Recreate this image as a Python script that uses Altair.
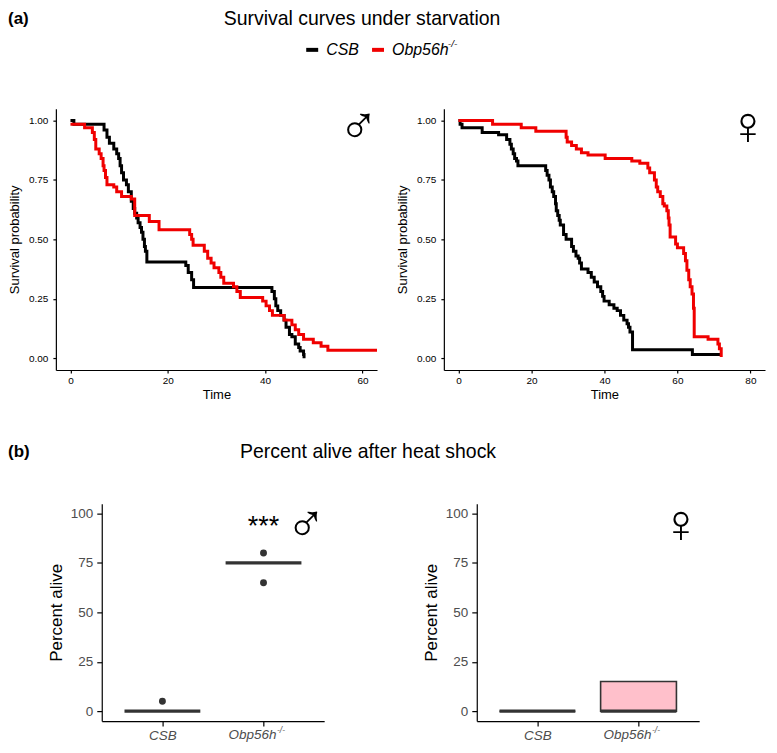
import altair as alt
import pandas as pd

FONT = "Liberation Sans"

# ---------------- data ----------------
genotypes = ["CSB", "Obp56h"]
genotype_sup = "-/-"
line_colors = ["#000000", "#F00000"]

# Survival under starvation, male
male_csb_time = [0, 0.7, 6.9, 7.5, 8.0, 8.9, 9.5, 9.9, 10.2, 10.5, 10.9, 11.5, 11.9, 12.5, 12.9,
                 13.2, 13.6, 13.9, 14.3, 14.6, 14.9, 15.2, 15.4, 15.7, 23.7, 24.2, 24.9, 25.3,
                 41.4, 41.9, 42.2, 42.6, 43.2, 43.9, 44.3, 45.0, 45.5, 46.2, 46.9, 47.2, 47.9, 48.0]
male_csb_surv = [1.0, 0.985, 0.96, 0.93, 0.905, 0.88, 0.86, 0.84, 0.81, 0.78, 0.75, 0.73, 0.70, 0.66,
                 0.63, 0.61, 0.59, 0.57, 0.55, 0.53, 0.50, 0.47, 0.45, 0.405, 0.39, 0.36, 0.33, 0.297,
                 0.28, 0.25, 0.22, 0.20, 0.18, 0.16, 0.13, 0.10, 0.09, 0.06, 0.045, 0.03, 0.015, 0.0]
male_obp_time = [0, 2.9, 4.5, 4.9, 5.2, 5.9, 6.3, 6.7, 6.9, 7.2, 7.5, 8.9, 9.5, 10.5, 12.5, 13.2,
                 16.2, 18.2, 24.5, 24.9, 25.2, 27.5, 28.2, 28.9, 29.5, 30.5, 30.9, 31.5, 33.5, 34.2,
                 34.9, 39.5, 40.2, 40.9, 41.5, 43.9, 45.5, 46.2, 46.9, 47.9, 49.9, 51.5, 52.9, 63.0]
male_obp_surv = [0.985, 0.97, 0.95, 0.92, 0.88, 0.86, 0.84, 0.81, 0.79, 0.76, 0.73, 0.72, 0.70, 0.68,
                 0.67, 0.60, 0.575, 0.54, 0.52, 0.50, 0.475, 0.45, 0.42, 0.40, 0.38, 0.36, 0.34, 0.315,
                 0.30, 0.28, 0.255, 0.24, 0.22, 0.20, 0.18, 0.16, 0.14, 0.12, 0.10, 0.08, 0.065, 0.05,
                 0.033, 0.033]

# Survival under starvation, female
female_csb_time = [0, 0.45, 0.98, 6.5, 11.0, 13.2, 14.1, 14.5, 15.0, 15.4, 15.9, 16.3, 23.9, 24.3,
                   24.8, 25.2, 25.7, 26.1, 26.6, 26.8, 27.2, 27.6, 27.9, 28.8, 29.5, 31.0, 31.5,
                   32.2, 32.8, 33.2, 33.7, 35.5, 36.4, 37.2, 38.1, 39.0, 39.5, 39.9, 41.3, 42.6,
                   43.5, 44.4, 45.3, 46.2, 46.6, 47.0, 47.7, 64.1, 72.0]
female_csb_surv = [1.0, 0.985, 0.97, 0.95, 0.94, 0.92, 0.90, 0.88, 0.86, 0.84, 0.83, 0.81, 0.79, 0.77,
                   0.75, 0.72, 0.70, 0.68, 0.65, 0.62, 0.60, 0.58, 0.56, 0.52, 0.50, 0.47, 0.45, 0.43,
                   0.42, 0.40, 0.375, 0.36, 0.34, 0.32, 0.30, 0.28, 0.26, 0.24, 0.225, 0.21, 0.20,
                   0.18, 0.16, 0.145, 0.13, 0.11, 0.035, 0.015, 0.015]
female_obp_time = [0, 9.35, 17.2, 21.2, 29.5, 29.8, 31.0, 32.3, 33.7, 35.5, 40.2, 47.5, 49.7, 51.9,
                   52.4, 53.7, 54.2, 54.6, 55.3, 56.0, 56.4, 57.1, 57.5, 57.7, 58.0, 59.5, 60.0,
                   61.7, 62.2, 62.6, 63.1, 63.5, 64.0, 64.4, 64.6, 68.4, 71.1, 71.5, 72.0]
female_obp_surv = [1.0, 0.985, 0.97, 0.955, 0.93, 0.91, 0.895, 0.88, 0.865, 0.855, 0.84, 0.83, 0.82,
                   0.80, 0.78, 0.75, 0.72, 0.70, 0.68, 0.65, 0.64, 0.62, 0.59, 0.56, 0.51, 0.48,
                   0.465, 0.44, 0.41, 0.37, 0.33, 0.30, 0.27, 0.21, 0.09, 0.08, 0.06, 0.04, 0.005]

# Percent alive after heat shock
male_heat_center = [0, 75]
male_heat_lower = [0, 75]
male_heat_upper = [0, 75]
male_points_genotype = ["CSB", "Obp56h", "Obp56h"]
male_points_value = [5, 80, 65]
female_heat_center = [0, 0]
female_heat_lower = [0, 0]
female_heat_upper = [0, 15]

panel_tags = ["(a)", "(b)"]
section_titles = ["Survival curves under starvation", "Percent alive after heat shock"]
sex_symbols = ["\u2642", "\u2640"]
signif_label = "***"

# ---------------- tables ----------------
def surv_table(pairs):
    rows = []
    for g, ts, ss in pairs:
        for t, s in zip(ts, ss):
            rows.append({"genotype": g, "time": t, "surv": s})
    return pd.DataFrame(rows)

surv_male = surv_table([(genotypes[0], male_csb_time, male_csb_surv),
                        (genotypes[1], male_obp_time, male_obp_surv)])
surv_female = surv_table([(genotypes[0], female_csb_time, female_csb_surv),
                          (genotypes[1], female_obp_time, female_obp_surv)])

HALF = 0.375
def heat_table(center, lower, upper):
    pos = [i + 1 for i in range(len(genotypes))]
    return pd.DataFrame({"genotype": genotypes, "pos": pos,
                         "lo": [p - HALF for p in pos], "hi": [p + HALF for p in pos],
                         "center": center, "lower": lower, "upper": upper})

heat_male = heat_table(male_heat_center, male_heat_lower, male_heat_upper)
heat_female = heat_table(female_heat_center, female_heat_lower, female_heat_upper)
points_male = pd.DataFrame({"pos": [genotypes.index(g) + 1 for g in male_points_genotype],
                            "value": male_points_value})

SYM_SIZE = 54

# ---------------- top panels ----------------
W_TOP, H_TOP = 322, 262
axis_top_common = dict(grid=False, domainColor="black", domainWidth=1.2, tickColor="black",
                       tickWidth=1.2, tickSize=3, labelFont=FONT, labelFontSize=10,
                       labelColor="black", titleFont=FONT, titleFontSize=13,
                       titleFontWeight="normal", titleColor="black")

color_enc = alt.Color("genotype:N", scale=alt.Scale(domain=genotypes, range=line_colors),
                      legend=alt.Legend(orient="none", legendX=249, legendY=-67,
                                        direction="horizontal", title=None,
                                        symbolType="stroke", symbolStrokeWidth=4, symbolSize=144,
                                        labelFont=FONT, labelFontSize=16, labelFontStyle="italic",
                                        labelColor="black", labelOffset=6, columnPadding=5,
                                        padding=0))

def surv_panel(df, xdomain, xvalues, symbol, sym_t, sym_s, with_header):
    xenc = alt.X("time:Q", scale=alt.Scale(domain=xdomain, nice=False, zero=False),
                 axis=alt.Axis(values=xvalues, title="Time", labelPadding=3, titlePadding=3,
                               **axis_top_common))
    yenc = alt.Y("surv:Q", scale=alt.Scale(domain=[-0.05, 1.05], nice=False, zero=False),
                 axis=alt.Axis(values=[0, 0.25, 0.5, 0.75, 1.0], format=".2f",
                               title="Survival probability", labelPadding=5, titlePadding=7,
                               **axis_top_common))
    lines = alt.Chart(df).mark_line(interpolate="step-after", strokeWidth=3, clip=True).encode(
        x=xenc, y=yenc, color=color_enc)
    sym = alt.Chart(pd.DataFrame({"time": [sym_t], "surv": [sym_s], "s": [symbol]})).mark_text(
        font=FONT, fontSize=SYM_SIZE, baseline="middle", align="center", color="black").encode(
        x=xenc, y=yenc, text="s:N")
    layers = [lines, sym]
    if with_header:
        tag = alt.Chart(pd.DataFrame({"t": [panel_tags[0]]})).mark_text(
            font=FONT, fontSize=17, fontWeight="bold", align="left", baseline="middle",
            color="black").encode(x=alt.value(-48), y=alt.value(-90), text="t:N")
        ttl = alt.Chart(pd.DataFrame({"t": [section_titles[0]]})).mark_text(
            font=FONT, fontSize=19.5, align="center", baseline="middle", color="black").encode(
            x=alt.value(307), y=alt.value(-90), text="t:N")
        sup = alt.Chart(pd.DataFrame({"t": [genotype_sup]})).mark_text(
            font=FONT, fontSize=10, fontStyle="italic", align="left", baseline="middle",
            color="black").encode(x=alt.value(393), y=alt.value(-65), text="t:N")
        layers += [tag, ttl, sup]
    return alt.layer(*layers).properties(width=W_TOP, height=H_TOP)

# ---------------- bottom panels ----------------
W_BOT, H_BOT = 223, 218
GREY = "#4D4D4D"
DARK = "#333333"
axis_bot_common = dict(grid=False, domainColor="black", domainWidth=1.2, tickColor="black",
                       tickWidth=1.2, tickSize=5, labelFont=FONT, labelFontSize=13.5,
                       labelColor=GREY, titleFont=FONT, titleFontSize=17,
                       titleFontWeight="normal", titleColor="black")


def heat_panel(df, symbol, inset, points=None, box=False, with_header=False, signif=None):
    def xb(field):
        return alt.X(field, type="quantitative",
                     scale=alt.Scale(domain=[0.4, 2.6], range=[inset, inset + W_BOT],
                                     nice=False, zero=False),
                     axis=alt.Axis(values=[1, 2], title=None, labelPadding=2,
                                   labelFontStyle="italic",
                                   labelExpr="datum.value == 1 ? '%s' : ''" % genotypes[0],
                                   **axis_bot_common))

    def yb(field):
        return alt.Y(field, type="quantitative",
                     scale=alt.Scale(domain=[-5, 105], nice=False, zero=False),
                     axis=alt.Axis(values=[0, 25, 50, 75, 100], title="Percent alive",
                                   offset=-inset, labelPadding=4, titlePadding=5,
                                   **axis_bot_common))

    layers = []
    if box:
        layers.append(alt.Chart(df).mark_rect(fill="#FFC0CB", stroke=DARK, strokeWidth=1.6).encode(
            x=xb("lo"), x2="hi", y=yb("lower"), y2="upper"))
    layers.append(alt.Chart(df).mark_rule(color=DARK, strokeWidth=3.2).encode(
        x=xb("lo"), x2="hi", y=yb("center")))
    if points is not None:
        layers.append(alt.Chart(points).mark_circle(color=DARK, opacity=1, size=48).encode(
            x=xb("pos"), y=yb("value")))
    if signif is not None:
        layers.append(alt.Chart(pd.DataFrame({"pos": [2.0], "value": [89.0], "s": [signif]}))
                      .mark_text(font=FONT, fontSize=27, align="center", baseline="alphabetic",
                                 color="black")
                      .encode(x=xb("pos"), y=yb("value"), text="s:N"))
    layers.append(alt.Chart(pd.DataFrame({"pos": [2.42], "value": [93.5], "s": [symbol]}))
                  .mark_text(font=FONT, fontSize=SYM_SIZE, align="center", baseline="middle",
                             color="black")
                  .encode(x=xb("pos"), y=yb("value"), text="s:N"))
    # x tick label for the mutant, with superscript
    lab = pd.DataFrame({"pos": [2.0], "t": [genotypes[1]], "sup": [genotype_sup]})
    layers.append(alt.Chart(lab).mark_text(
        font=FONT, fontSize=13.5, fontStyle="italic", align="right", baseline="middle",
        color=GREY, dx=13).encode(x=xb("pos"), y=alt.value(H_BOT + 14), text="t:N"))
    layers.append(alt.Chart(lab).mark_text(
        font=FONT, fontSize=8.5, fontStyle="italic", align="left", baseline="middle",
        color=GREY, dx=13.5).encode(x=xb("pos"), y=alt.value(H_BOT + 9), text="sup:N"))
    if with_header:
        layers.append(alt.Chart(pd.DataFrame({"t": [panel_tags[1]]})).mark_text(
            font=FONT, fontSize=17, fontWeight="bold", align="left", baseline="middle",
            color="black").encode(x=alt.value(-48), y=alt.value(-52), text="t:N"))
        layers.append(alt.Chart(pd.DataFrame({"t": [section_titles[1]]})).mark_text(
            font=FONT, fontSize=19.5, align="center", baseline="middle", color="black").encode(
            x=alt.value(313), y=alt.value(-52), text="t:N"))
    return alt.layer(*layers).properties(width=inset + W_BOT, height=H_BOT)


L1 = surv_panel(surv_male, [-3, 63], [0, 20, 40, 60], sex_symbols[0], 59.2, 0.97, True)
L2 = surv_panel(surv_female, [-4, 84], [0, 20, 40, 60, 80], sex_symbols[1], 79.3, 0.97, False)
B1 = heat_panel(heat_male, sex_symbols[0], 46, points=points_male, with_header=True,
                signif=signif_label)
B2 = heat_panel(heat_female, sex_symbols[1], 33, box=True)

chart = alt.concat(
    L1, L2, B1, B2,
    columns=2, spacing={"row": 134, "column": 67}, align="each", bounds="flush",
).properties(padding=0).configure(background="white").configure_view(stroke=None)

chart.save("out.html", embed_options={"renderer": "svg", "actions": False})
